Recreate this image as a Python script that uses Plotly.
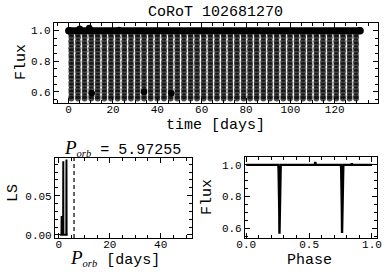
import plotly.graph_objects as go

W, H = 390, 279

# ---------------- data ----------------
title_top = "CoRoT 102681270"
p_orb = 5.97255

# mid-eclipse times of the light curve [days]
ecl_times = [1.2, 4.2, 7.2, 10.2, 13.1, 16.1, 19.1, 22.1, 25.1, 28.1, 31.1,
             34.0, 37.0, 40.0, 43.0, 46.0, 49.0, 52.0, 55.0, 57.9, 60.9, 63.9,
             66.9, 69.9, 72.9, 75.9, 78.9, 81.8, 84.8, 87.8, 90.8, 93.8, 96.8,
             99.8, 102.8, 105.7, 108.7, 111.7, 114.7, 117.7, 120.7, 123.7,
             126.7, 129.6]
# in-eclipse samples: offset from mid-eclipse [days] and flux
ecl_dt = [-0.06, -0.054, -0.048, -0.042, -0.036, -0.03, -0.024, -0.018, -0.012, -0.006,
          0.0, 0.006, 0.012, 0.018, 0.024, 0.03, 0.036, 0.042, 0.048, 0.054]
ecl_flux = [0.975, 0.93, 0.885, 0.84, 0.795, 0.75, 0.705, 0.66, 0.615, 0.57,
            0.555, 0.595, 0.64, 0.685, 0.73, 0.775, 0.82, 0.865, 0.91, 0.955]
# out-of-eclipse baseline
base_time = [0.1, 131.4]
base_flux = [1.0, 1.0]
# isolated points
extra_time = [5.0, 9.3, 22.7, 10.4, 46.3, 34.0]
extra_flux = [1.012, 1.018, 1.004, 0.59, 0.59, 0.6]

# Lomb-Scargle periodogram
ls_period = [0.5, 1.05, 1.1, 1.15, 1.7, 1.75, 1.8, 2.95, 3.0, 3.05, 3.5]
ls_power = [0.0, 0.0, 0.024, 0.0, 0.0, 0.094, 0.0, 0.0, 0.096, 0.0, 0.0]

# phase-folded light curve
phase = [0.0, 0.10, 0.20, 0.254, 0.257, 0.2605, 0.2625, 0.264, 0.2655, 0.2675, 0.271, 0.274,
         0.40, 0.545, 0.549, 0.553, 0.60,
         0.752, 0.755, 0.7585, 0.7605, 0.762, 0.7635, 0.7655, 0.769, 0.772,
         0.835, 0.84, 0.845, 0.90, 1.0]
phase_flux = [1.0, 1.0, 1.0, 1.0, 0.98, 0.88, 0.72, 0.565, 0.72, 0.88, 0.98, 1.0,
              1.0, 1.0, 1.018, 1.0, 1.0,
              1.0, 0.98, 0.88, 0.72, 0.57, 0.72, 0.88, 0.98, 1.0,
              1.0, 1.008, 1.0, 1.0, 1.0]

# ---------------- figure ----------------
def px_x(a, b):
    return [a / W, b / W]

def px_y(top, bottom):
    return [1 - bottom / H, 1 - top / H]

MONO = "Liberation Mono, Courier New, monospace"

fig = go.Figure()

lc_x = [t + dt for t in ecl_times for dt in ecl_dt]
lc_y = [f for t in ecl_times for f in ecl_flux]

fig.add_trace(go.Scatter(x=lc_x, y=lc_y, mode="markers", xaxis="x", yaxis="y",
                         marker=dict(size=5.8, color="rgba(0,0,0,0.7)", line=dict(width=0)),
                         showlegend=False, hoverinfo="skip"))
fig.add_trace(go.Scatter(x=base_time, y=base_flux, mode="lines+markers", xaxis="x", yaxis="y",
                         line=dict(color="black", width=7),
                         marker=dict(size=7.5, color="black"),
                         showlegend=False, hoverinfo="skip"))
fig.add_trace(go.Scatter(x=extra_time, y=extra_flux, mode="markers", xaxis="x", yaxis="y",
                         marker=dict(size=6.5, color="black", line=dict(width=0)),
                         showlegend=False, hoverinfo="skip"))

fig.add_trace(go.Scatter(x=ls_period, y=ls_power, mode="lines", xaxis="x2", yaxis="y2",
                         line=dict(color="black", width=2),
                         showlegend=False, hoverinfo="skip"))

fig.add_trace(go.Scatter(x=phase, y=phase_flux, mode="lines", xaxis="x3", yaxis="y3",
                         line=dict(color="black", width=2.4),
                         showlegend=False, hoverinfo="skip"))

def ax(domain, rng, dtick, minor, fmt=None, anchor=None, xaxis=False):
    d = dict(domain=domain, range=rng, dtick=dtick, tick0=0, automargin=False,
             ticks="inside", ticklen=5, tickwidth=1, tickcolor="black",
             showline=True, linecolor="black", linewidth=1.2, mirror="allticks",
             showgrid=False, zeroline=False,
             minor=dict(ticks="inside", ticklen=3, tickwidth=1, tickcolor="black",
                        dtick=minor, tick0=0, showgrid=False),
             tickfont=dict(family=MONO, size=11, color="black"),
             anchor=anchor)
    if xaxis:
        d["ticklabelstandoff"] = -4
    if fmt:
        d["tickformat"] = fmt
    return d

fig.update_layout(
    width=W, height=H,
    margin=dict(l=0, r=0, t=0, b=0, autoexpand=False),
    paper_bgcolor="white", plot_bgcolor="white",
    xaxis=ax(px_x(54, 378), [-6.6, 139.5], 20, 5, anchor="y", xaxis=True),
    yaxis=ax(px_y(23, 103), [0.526, 1.05], 0.2, 0.05, fmt=".1f", anchor="x"),
    xaxis2=ax(px_x(55, 192), [-1.5, 52.3], 20, 5, anchor="y2", xaxis=True),
    yaxis2=ax(px_y(158, 238), [-0.004, 0.098], 0.05, 0.01, fmt=".2f", anchor="x2"),
    xaxis3=ax(px_x(245, 377), [-0.01, 1.04], 0.5, 0.1, fmt=".1f", anchor="y3", xaxis=True),
    yaxis3=ax(px_y(157, 238), [0.538, 1.05], 0.2, 0.05, fmt=".1f", anchor="x3"),
)

fig.add_shape(type="line", xref="x2", yref="y2 domain", x0=p_orb, x1=p_orb, y0=0, y1=1,
              line=dict(color="black", width=1.2, dash="4px,3px"))

def ann(text, x, y, size=15, angle=0):
    fig.add_annotation(text=text, x=x / W, y=1 - y / H, xref="paper", yref="paper",
                       showarrow=False, xanchor="center", yanchor="middle",
                       textangle=angle, font=dict(family=MONO, size=size, color="black"))

ann(title_top, 215, 13)
ann("time [days]", 215, 125)
ann("Flux", 21, 62, angle=-90)
ann("LS", 13, 193, angle=-90)
ann("Flux", 207, 197, angle=-90)
ann("Phase", 309, 260)
ann('<span style="font-family:Liberation Serif;font-size:19px"><i>P</i></span>'
    '<sub><span style="font-family:Liberation Serif"><i>orb</i></span></sub>'
    f' = {p_orb}', 122, 148)
ann('<span style="font-family:Liberation Serif;font-size:19px"><i>P</i></span>'
    '<sub><span style="font-family:Liberation Serif"><i>orb</i></span></sub>'
    ' [days]', 115, 258)

fig.write_html("out.html", config={"displayModeBar": False},
               post_script="document.body.style.margin='0';document.body.style.overflow='hidden';")
